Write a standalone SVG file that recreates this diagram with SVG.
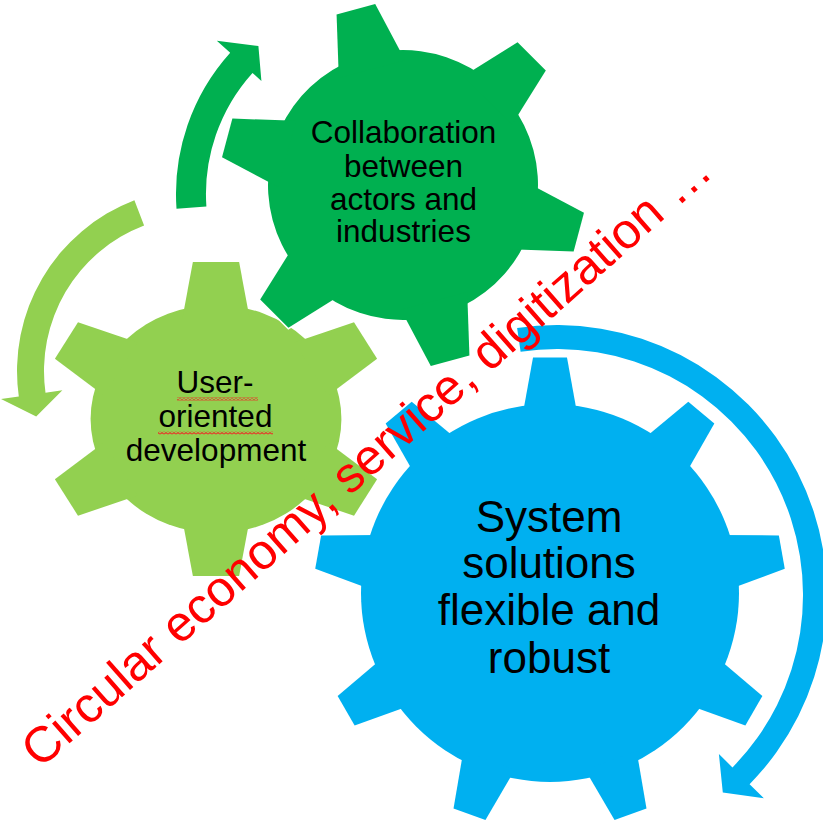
<svg xmlns="http://www.w3.org/2000/svg" xmlns:xlink="http://www.w3.org/1999/xlink" width="823" height="823" viewBox="0 0 823 823">
<style>
.lbl{font-family:"Liberation Sans",Arial,sans-serif;fill:#000;text-anchor:middle}
.halo{fill:#fff;stroke:#fff;stroke-width:3}
.red{font-family:"Liberation Sans",Arial,sans-serif;fill:#FF0000;font-size:50px}
</style>
<defs>
  <g id="lg-shape">
    <circle r="114"/>
    <polygon id="lg-tooth" points="-30.7,-100 -21,-157 21,-157 30.7,-100"/>
    <use xlink:href="#lg-tooth" transform="rotate(60)"/>
    <use xlink:href="#lg-tooth" transform="rotate(120)"/>
    <use xlink:href="#lg-tooth" transform="rotate(180)"/>
    <use xlink:href="#lg-tooth" transform="rotate(240)"/>
    <use xlink:href="#lg-tooth" transform="rotate(300)"/>
  </g>
  <g id="dg-shape">
    <circle r="135"/>
    <polygon id="dg-tooth" points="-34.3,-120 -20,-182 20,-182 34.3,-120"/>
    <use xlink:href="#dg-tooth" transform="rotate(60)"/>
    <use xlink:href="#dg-tooth" transform="rotate(120)"/>
    <use xlink:href="#dg-tooth" transform="rotate(180)"/>
    <use xlink:href="#dg-tooth" transform="rotate(240)"/>
    <use xlink:href="#dg-tooth" transform="rotate(300)"/>
  </g>
  <g id="bl-shape">
    <circle r="189"/>
    <polygon id="bl-tooth" points="-27.4,-178 -17,-235.4 17,-235.4 27.4,-178"/>
    <use xlink:href="#bl-tooth" transform="rotate(40)"/>
    <use xlink:href="#bl-tooth" transform="rotate(80)"/>
    <use xlink:href="#bl-tooth" transform="rotate(120)"/>
    <use xlink:href="#bl-tooth" transform="rotate(160)"/>
    <use xlink:href="#bl-tooth" transform="rotate(200)"/>
    <use xlink:href="#bl-tooth" transform="rotate(240)"/>
    <use xlink:href="#bl-tooth" transform="rotate(280)"/>
    <use xlink:href="#bl-tooth" transform="rotate(320)"/>
  </g>
  <pattern id="squig" patternUnits="userSpaceOnUse" width="4" height="3">
    <path d="M0,2.4 L2,0.6 L4,2.4" fill="none" stroke="#E5392A" stroke-width="1.2"/>
  </pattern>
</defs>
<rect width="823" height="823" fill="#fff"/>

<g id="node-user">
  <g transform="translate(216,419) scale(1.1,1)">
    <use xlink:href="#lg-shape" class="halo"/>
    <use xlink:href="#lg-shape" fill="#92D050"/>
  </g>
  <text class="lbl" font-size="31.5"><tspan x="215" y="393">User-</tspan><tspan x="215.5" y="427">oriented</tspan><tspan x="216" y="461">development</tspan></text>
  <rect x="177" y="397.5" width="81" height="3" fill="url(#squig)"/>
  <rect x="158" y="431.5" width="115" height="3" fill="url(#squig)"/>
</g>

<g id="node-collab">
  <g transform="translate(403,185) rotate(-15)">
    <use xlink:href="#dg-shape" class="halo"/>
    <use xlink:href="#dg-shape" fill="#00B050"/>
  </g>
  <text class="lbl" font-size="31.5"><tspan x="403.5" y="143">Collaboration</tspan><tspan x="403.5" y="176.5">between</tspan><tspan x="403.5" y="209.5">actors and</tspan><tspan x="403.5" y="242">industries</tspan></text>
</g>

<g id="node-system">
  <g transform="translate(550,593)">
    <use xlink:href="#bl-shape" class="halo"/>
    <use xlink:href="#bl-shape" fill="#00B0F0"/>
  </g>
  <text class="lbl" font-size="44"><tspan x="549" y="532">System</tspan><tspan x="549" y="578">solutions</tspan><tspan x="549" y="625">flexible and</tspan><tspan x="549" y="673">robust</tspan></text>
</g>

<g id="connectors">
  <path id="arrow-collab" fill="#00B050" d="M176.5,208.7 A211,211 0 0 1 230.2,52.8 L216.8,40.8 L258.4,46.1 L261.4,80.9 L252.5,72.9 A181,181 0 0 0 206.4,206.6 Z"/>
  <path id="arrow-user" fill="#92D050" d="M134.4,200.2 A183,183 0 0 0 18.8,396.5 L1,399 L36.2,416.4 L62.4,390.3 L45.5,392.7 A156,156 0 0 1 144.1,225.4 Z"/>
  <path id="arrow-system" fill="#00B0F0" d="M517.1,328 A270,270 0 0 1 749.6,784.2 L763.9,798.3 L722.8,792.6 L718.9,754.1 L732.5,767.4 A246,246 0 0 0 520.6,351.7 Z"/>
</g>

<text class="red" transform="translate(40,769.4) rotate(-41.4)">Circular economy, service, digitization …</text>
</svg>
